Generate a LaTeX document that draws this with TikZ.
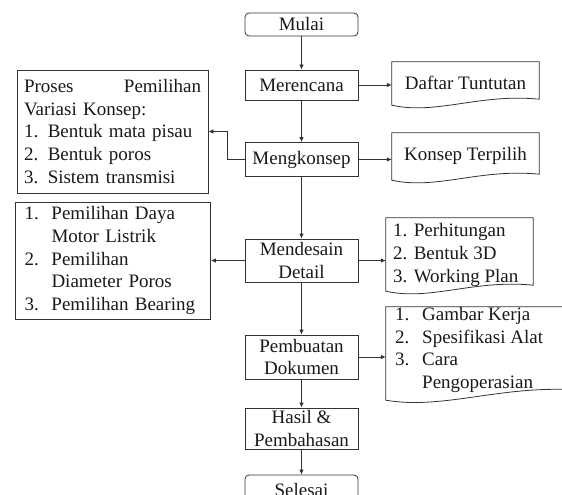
\documentclass[tikz,border=0pt]{standalone}
\usepackage{fontspec}
\setmainfont{Liberation Serif}
\usetikzlibrary{arrows.meta,calc}
\newcommand\docshape[2]{% node name, rise of right end
  \draw[doc] (#1.north west) -- (#1.north east) -- ($(#1.south east)+(0,-#2)$)
    .. controls ($(#1.south west)!0.6!(#1.south east)+(0,-#2-6)$)
    and ($(#1.south west)!0.3!(#1.south east)+(0,10)$) .. (#1.south west) -- cycle;}
\begin{document}
\begin{tikzpicture}[x=1pt,y=-1pt,
  every node/.style={font=\fontsize{19}{22.7}\selectfont, text=black!90},
  box/.style={draw=black!80, line width=0.8pt, minimum width=113pt, inner sep=0pt, align=center},
  term/.style={box, rounded corners=4pt},
  arr/.style={draw=black!80, line width=0.8pt, -{Latex[length=5pt,width=4.5pt]}},
  doc/.style={draw=black!80, line width=0.8pt},
  docbox/.style={draw=none, inner sep=0pt},
  lbox/.style={draw=black!80, line width=0.8pt, inner ysep=0pt, align=left},
  txt/.style={inner sep=0pt, align=left}
]
\useasboundingbox (0,0) rectangle (562,495);
\clip (0,0) rectangle (562,495);

% main column
\node[term, minimum height=23pt] (mulai) at (301.5,24.5) {Mulai};
\node[box, minimum height=30pt] (merencana) at (301.5,85) {Merencana};
\node[box, minimum height=34pt] (mengkonsep) at (301.5,159.5) {Mengkonsep};
\node[box, minimum height=43pt] (mendesain) at (301.5,260.5) {Mendesain\\Detail};
\node[box, minimum height=44pt] (pembuatan) at (301.5,357) {Pembuatan\\Dokumen};
\node[box, minimum height=41pt] (hasil) at (301.5,428.5) {Hasil \&\\Pembahasan};
\node[term, minimum height=30pt] (selesai) at (301.5,490) {Selesai};

% left boxes
\node[lbox, text width=177pt, inner xsep=7pt, minimum height=123pt] (kons) at (112.5,131.5)
  {Proses\hfill Pemilihan\\Variasi Konsep:\\1. Bentuk mata pisau\\2. Bentuk poros\\3. Sistem transmisi};
\node[lbox, text width=177pt, inner xsep=9pt, minimum height=117pt] (pemil) at (113,260.5)
  {\makebox[27pt][l]{1.}Pemilihan Daya\\\hspace*{27pt}Motor Listrik\\\makebox[27pt][l]{2.}Pemilihan\\\hspace*{27pt}Diameter Poros\\\makebox[27pt][l]{3.}Pemilihan Bearing};

% document shapes
\node[docbox, minimum width=147pt, minimum height=43pt] (daftar) at (465.5,83.5) {};
\docshape{daftar}{6}
\node[inner sep=0pt] (daftartxt) at (465.5,83) {Daftar Tuntutan};

\node[docbox, minimum width=147pt, minimum height=47pt] (konsep) at (465.5,156.5) {};
\docshape{konsep}{6}
\node[inner sep=0pt] (konseptxt) at (465.5,156) {Konsep Terpilih};

\node[docbox, minimum width=147pt, minimum height=73pt] (perh) at (459.5,254.5) {};
\docshape{perh}{6}
\node[txt, anchor=west] (perhtxt) at (393,255)
  {1. Perhitungan\\2. Bentuk 3D\\3. Working Plan};

\node[docbox, minimum width=194pt, minimum height=93pt] (gambar) at (483,353.5) {};
\docshape{gambar}{10}
\node[txt, anchor=west] (gambartxt) at (395,350)
  {\makebox[27pt][l]{1.}Gambar Kerja\\\makebox[27pt][l]{2.}Spesifikasi Alat\\\makebox[27pt][l]{3.}Cara\\\hspace*{27pt}Pengoperasian};

% connectors
\draw[arr] (mulai) -- (merencana);
\draw[arr] (merencana) -- (mengkonsep);
\draw[arr] (mengkonsep) -- (mendesain);
\draw[arr] (mendesain) -- (pembuatan);
\draw[arr] (pembuatan) -- (hasil);
\draw[arr] (hasil) -- (selesai);

\draw[arr] (merencana.east) -- (merencana.east -| daftar.west);
\draw[arr] (mengkonsep.east) -- (mengkonsep.east -| konsep.west);
\draw[arr] (mendesain.east) -- (mendesain.east -| perh.west);
\draw[arr] (pembuatan.east) -- (pembuatan.east -| gambar.west);
\draw[arr] (mendesain.west) -- (mendesain.west -| pemil.east);
\draw[arr] (mengkonsep.west) -- ++(-17,0) |- (kons.east);
\end{tikzpicture}
\end{document}
